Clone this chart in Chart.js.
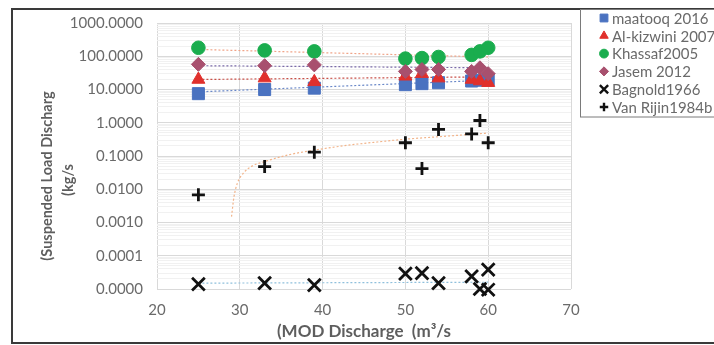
<!DOCTYPE html>
<html>
<head>
<meta charset="utf-8">
<script src="https://cdn.jsdelivr.net/npm/chart.js@4.4.1/dist/chart.umd.min.js"></script>
<style>
  html, body { margin: 0; padding: 0; background: #fff; }
  #wrap { width: 714px; height: 345px; }
</style>
</head>
<body>
<div id="wrap"><canvas id="chart" width="714" height="345"></canvas></div>
<script>
// MOD discharge (m3/s) for the measured points
const discharge = [25, 33, 39, 50, 52, 54, 58, 59, 60];

// suspended load (kg/s) per method
const maatooq = [7.5, 10, 11, 14, 15, 16, 18, 19, 20];
const kizwini = [20, 22, 17, 25, 30, 22, 20, 18, 16];
const khassaf = [180, 150, 140, 85, 88, 95, 110, 140, 180];
const jasem = [57, 52, 55, 35, 40, 40, 35, 45, 30];
const vanRijn = [0.0068, 0.048, 0.13, 0.25, 0.042, 0.63, 0.46, 1.17, 0.25];

const bagnoldQ = [25, 33, 39, 50, 52, 54, 58, 59, 60, 60];
const bagnold = [0.000014, 0.000015, 0.000013, 0.000029, 0.00003, 0.000015, 0.000024, 0.00001, 0.000038, 0.0000095];

// trendlines
const trendQ = [25, 60];
const maatooqTrend = [8.5, 19];
const kizwiniTrend = [20, 24];
const khassafTrend = [160, 95];
const jasemTrend = [52, 45];
const bagnoldTrend = [0.000015, 0.000016];
const vanRijnTrendQ = [29.0, 29.3, 29.7, 30.5, 31.5, 33, 36, 39, 43, 47, 50, 54, 58, 60];
const vanRijnTrend = [0.0015, 0.006, 0.015, 0.032, 0.05, 0.068, 0.11, 0.15, 0.21, 0.27, 0.32, 0.38, 0.45, 0.49];

// axis ticks
const xTicks = [20, 30, 40, 50, 60, 70];
const yTicks = [0.00001, 0.0001, 0.001, 0.01, 0.1, 1, 10, 100, 1000];

const FONT = "Lato, 'Liberation Sans', sans-serif";
const TEXT = '#6a6a6a';

function pts(xs, ys) {
  return xs.map((x, i) => ({ x: x, y: ys[i] }));
}

function markers(label, xs, ys, style, radius, color, order, width) {
  return {
    label: label,
    data: pts(xs, ys),
    pointStyle: style,
    pointRadius: radius,
    pointHoverRadius: radius,
    backgroundColor: color,
    borderColor: color,
    pointBorderWidth: width || 1,
    borderWidth: width || 1,
    showLine: false,
    clip: false,
    order: order,
    inLegend: true
  };
}

function trend(xs, ys, color) {
  return {
    data: pts(xs, ys),
    showLine: true,
    borderColor: color,
    borderWidth: 1.2,
    borderDash: [2, 2],
    pointRadius: 0,
    tension: 0.4,
    cubicInterpolationMode: 'monotone',
    order: 20,
    inLegend: false
  };
}

// minor log gridlines at 2..9 of every decade
const yMinor = [];
for (let k = 0; k < yTicks.length - 1; k++) {
  for (let m = 2; m <= 9; m++) yMinor.push(yTicks[k] * m);
}
const yMajorSet = new Set(yTicks);

const datasets = [
  markers('maatooq 2016', discharge, maatooq, 'rect', 8.5, '#4a72c0', 4),
  markers('Al-kizwini 2007', discharge, kizwini, 'triangle', 7.5, '#e0302c', 3),
  markers('Khassaf2005', discharge, khassaf, 'circle', 6.8, '#1aad4e', 2),
  markers('Jasem 2012', discharge, jasem, 'rectRot', 7, '#a8506e', 1),
  markers('Bagnold1966', bagnoldQ, bagnold, 'crossRot', 9, '#111111', 1, 2.8),
  markers('Van Rijin1984b', discharge, vanRijn, 'cross', 6.5, '#111111', 1, 2.8),
  trend(trendQ, khassafTrend, '#f0a488'),
  trend(trendQ, jasemTrend, '#7a6aa8'),
  trend(trendQ, kizwiniTrend, '#c85048'),
  trend(trendQ, maatooqTrend, '#6a88c8'),
  trend(trendQ, bagnoldTrend, '#8fc0dc'),
  trend(vanRijnTrendQ, vanRijnTrend, '#f2b48a')
];

// frame, legend box and y axis title
const decorations = {
  id: 'decorations',
  afterDraw(chart) {
    const ctx = chart.ctx;
    ctx.save();
    ctx.strokeStyle = '#3a3a3a';
    ctx.lineWidth = 2;
    ctx.strokeRect(12, 9, 740, 334);

    ctx.strokeStyle = '#7a7a7a';
    ctx.lineWidth = 1;
    ctx.fillStyle = '#ffffff';
    ctx.fillRect(580.5, 9, 150, 108);
    ctx.strokeRect(580.5, 9.5, 150, 107.5);

    let y = 18;
    chart.data.datasets.forEach(ds => {
      if (!ds.inLegend) return;
      ctx.fillStyle = ds.backgroundColor;
      ctx.strokeStyle = ds.borderColor;
      ctx.lineWidth = ds.borderWidth > 1 ? 2.4 : 1;
      Chart.helpers.drawPoint(ctx, {
        pointStyle: ds.pointStyle,
        radius: ds.pointRadius * 0.65,
        borderWidth: ds.borderWidth > 1 ? 2.4 : 1,
        rotation: 0
      }, 604, y);
      ctx.fillStyle = TEXT;
      ctx.font = "15px " + FONT;
      ctx.textAlign = 'left';
      ctx.textBaseline = 'middle';
      ctx.fillText(ds.label, 612, y + 1);
      y += 17.8;
    });

    ctx.fillStyle = '#5e5e5e';
    ctx.font = "bold 14.5px " + FONT;
    ctx.textAlign = 'center';
    ctx.textBaseline = 'middle';
    ctx.save();
    ctx.translate(47, 176);
    ctx.rotate(-Math.PI / 2);
    ctx.fillText('(Suspended Load Discharg', 0, 0);
    ctx.restore();
    ctx.save();
    ctx.translate(68, 180);
    ctx.rotate(-Math.PI / 2);
    ctx.fillText('(kg/s', 0, 0);
    ctx.restore();
    ctx.restore();
  }
};

new Chart(document.getElementById('chart').getContext('2d'), {
  type: 'scatter',
  data: { datasets: datasets },
  options: {
    responsive: false,
    devicePixelRatio: 1,
    animation: false,
    layout: { padding: { top: 18, right: 143, bottom: 0, left: 0 } },
    plugins: {
      legend: { display: false },
      tooltip: { enabled: false }
    },
    scales: {
      x: {
        type: 'linear',
        min: 20,
        max: 70,
        afterFit: s => { s.height = 56; },
        afterBuildTicks: s => { s.ticks = xTicks.map(v => ({ value: v })); },
        grid: { color: '#d9d9d9', drawTicks: false },
        border: { display: false },
        ticks: {
          padding: 12,
          color: TEXT,
          font: { family: FONT, size: 15 }
        },
        title: {
          display: true,
          text: '(MOD Discharge  (m\u00b3/s',
          color: '#5e5e5e',
          font: { family: FONT, size: 17, weight: 'bold' },
          padding: { top: 0, bottom: 3 }
        }
      },
      y: {
        type: 'logarithmic',
        min: 0.00001,
        max: 1000,
        afterFit: s => { s.width = 157; },
        afterBuildTicks: s => {
          s.ticks = yTicks.concat(yMinor).sort((a, b) => a - b).map(v => ({ value: v }));
        },
        grid: {
          drawTicks: false,
          color: c => yMajorSet.has(c.tick.value) ? '#d9d9d9' : '#f1f1f1'
        },
        border: { display: false },
        ticks: {
          autoSkip: false,
          padding: 14,
          color: TEXT,
          font: { family: FONT, size: 15 },
          callback: v => yMajorSet.has(v) ? v.toFixed(4) : ''
        }
      }
    }
  },
  plugins: [decorations]
});
</script>
</body>
</html>
